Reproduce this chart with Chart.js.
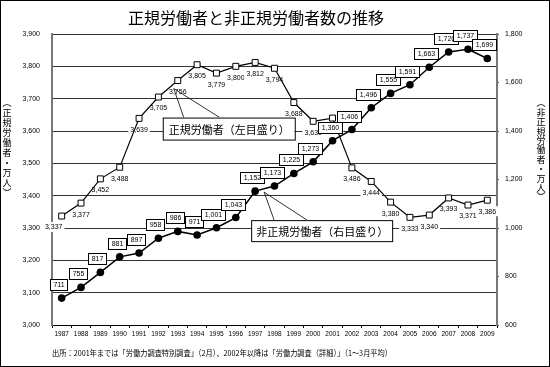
<!DOCTYPE html>
<html>
<head>
<meta charset="utf-8">
<script src="https://cdn.jsdelivr.net/npm/chart.js@4/dist/chart.umd.min.js"></script>
<style>
  html, body { margin: 0; padding: 0; background: #fff; }
  canvas { display: block; }
</style>
</head>
<body>
<canvas id="myChart" width="550" height="367"></canvas>
<script>
const years = ['1987', '1988', '1989', '1990', '1991', '1992', '1993', '1994', '1995', '1996', '1997', '1998',
    '1999', '2000', '2001', '2002', '2003', '2004', '2005', '2006', '2007', '2008', '2009'];

// 正規労働者（万人, 左目盛り）
const regular = [3337, 3377, 3452, 3488, 3639, 3705, 3756, 3805, 3779, 3800, 3812, 3794,
    3688, 3630, 3640, 3486, 3444, 3380, 3333, 3340, 3393, 3371, 3386];

// 非正規労働者（万人, 右目盛り）
const nonRegular = [711, 755, 817, 881, 897, 958, 986, 971, 1001, 1043, 1152, 1173,
    1225, 1273, 1360, 1406, 1496, 1555, 1591, 1663, 1726, 1737, 1699];

const leftTicks = [3000, 3100, 3200, 3300, 3400, 3500, 3600, 3700, 3800, 3900];
const rightTicks = [600, 800, 1000, 1200, 1400, 1600, 1800];

const titleText = '正規労働者と非正規労働者数の推移';
const leftTitle = '︵正規労働者・万人︶';
const rightTitle = '︵非正規労働者・万人︶';
const regularNote = '正規労働者（左目盛り）';
const nonRegularNote = '非正規労働者（右目盛り）';
const sourceText = '出所：2001年までは「労働力調査特別調査」（2月）、2002年以降は「労働力調査（詳細）」（1～3月平均）';

const jp = '"Noto Sans CJK JP", sans-serif';
const num = '"Liberation Sans", Arial, sans-serif';
const fmt = v => v.toLocaleString('en-US');

function callout(ctx, p, text, lines, box) {
    ctx.save();
    ctx.strokeStyle = '#000';
    ctx.lineWidth = 0.8;
    ctx.beginPath();
    for (const l of lines) {
        ctx.moveTo(p.x + l[0], p.y + l[1]);
        ctx.lineTo(p.x + l[2], p.y + l[3]);
    }
    ctx.stroke();
    ctx.fillStyle = '#fff';
    ctx.fillRect(p.x + box[0], p.y + box[1], box[2], box[3]);
    ctx.lineWidth = 1;
    ctx.strokeRect(p.x + box[0] + 0.5, p.y + box[1] + 0.5, box[2], box[3]);
    ctx.fillStyle = '#000';
    ctx.font = '11px ' + jp;
    ctx.textAlign = 'center';
    ctx.textBaseline = 'middle';
    ctx.fillText(text, p.x + box[0] + box[2] / 2 + 0.5, p.y + box[1] + box[3] / 2 + 1);
    ctx.restore();
}

function verticalText(ctx, text, x, y, step) {
    ctx.save();
    ctx.font = '9px ' + jp;
    ctx.fillStyle = '#000';
    ctx.textAlign = 'center';
    ctx.textBaseline = 'middle';
    [...text].forEach((ch, i) => ctx.fillText(ch, x, y + i * step));
    ctx.restore();
}

const decor = {
    id: 'decor',
    beforeDraw(chart) {
        const ctx = chart.ctx;
        ctx.save();
        ctx.fillStyle = '#fff';
        ctx.fillRect(0, 0, chart.width, chart.height);
        ctx.restore();
    },
    beforeDatasetsDraw(chart) {
        // labels of the regular series: plain text under each square
        const ctx = chart.ctx;
        const meta = chart.getDatasetMeta(0);
        ctx.save();
        ctx.font = '7px ' + num;
        ctx.textAlign = 'center';
        ctx.textBaseline = 'middle';
        meta.data.forEach((pt, i) => {
            const t = fmt(regular[i]);
            const dx = i === 0 ? -8 : 0;
            const w = ctx.measureText(t).width + 4;
            ctx.fillStyle = '#fff';
            ctx.fillRect(pt.x + dx - w / 2, pt.y + 6, w, 10);
            ctx.fillStyle = '#000';
            ctx.fillText(t, pt.x + dx, pt.y + 11.5);
        });
        ctx.restore();
    },
    afterDatasetsDraw(chart) {
        const ctx = chart.ctx;
        const meta = chart.getDatasetMeta(1);
        ctx.save();
        ctx.font = '7px ' + num;
        ctx.textAlign = 'center';
        ctx.textBaseline = 'middle';
        meta.data.forEach((pt, i) => {
            const t = fmt(nonRegular[i]);
            const w = Math.round(ctx.measureText(t).width + 6);
            const x = Math.round(pt.x - 3 - w / 2);
            const y = Math.round(pt.y - 19);
            ctx.fillStyle = '#fff';
            ctx.fillRect(x, y, w, 11);
            ctx.strokeStyle = '#000';
            ctx.lineWidth = 1;
            ctx.strokeRect(x + 0.5, y + 0.5, w, 11);
            ctx.fillStyle = '#000';
            ctx.fillText(t, x + w / 2 + 0.5, y + 6.5);
        });
        ctx.restore();

        const p0 = chart.getDatasetMeta(0).data[years.indexOf('1993')];
        callout(ctx, p0, regularNote, [[-4, 8, 6, 37], [-4, 8, 42, 37]], [-15, 37, 132, 22]);
        const p1 = chart.getDatasetMeta(1).data[years.indexOf('1997')];
        callout(ctx, p1, nonRegularNote, [[9, 1, 19, 29], [9, 1, 52, 29]], [-4, 29, 141, 21]);
    },
    afterDraw(chart) {
        const ctx = chart.ctx;
        ctx.save();
        ctx.fillStyle = '#000';
        ctx.font = '16px ' + jp;
        ctx.textAlign = 'center';
        ctx.textBaseline = 'middle';
        ctx.fillText(titleText, 256, 18);

        ctx.font = '8px ' + jp;
        ctx.textAlign = 'left';
        ctx.fillText(sourceText, 52, 353, 340);

        ctx.strokeStyle = '#000';
        ctx.lineWidth = 1;
        ctx.strokeRect(0.5, 0.5, chart.width - 1, chart.height - 1);
        ctx.restore();

        verticalText(ctx, leftTitle, 7, 103, 10);
        verticalText(ctx, rightTitle, 541, 103, 9.4);
    }
};

const ctx = document.getElementById('myChart').getContext('2d');

new Chart(ctx, {
    type: 'line',
    data: {
        labels: years,
        datasets: [
            {
                label: '正規労働者',
                data: regular,
                yAxisID: 'y',
                borderColor: '#000',
                borderWidth: 1.2,
                pointStyle: 'rect',
                pointRadius: 4.2,
                pointBackgroundColor: '#fff',
                pointBorderColor: '#000',
                pointBorderWidth: 1,
                tension: 0
            },
            {
                label: '非正規労働者',
                data: nonRegular,
                yAxisID: 'y1',
                borderColor: '#000',
                borderWidth: 1.5,
                pointStyle: 'circle',
                pointRadius: 3.8,
                pointBackgroundColor: '#000',
                pointBorderColor: '#000',
                pointBorderWidth: 0,
                tension: 0
            }
        ]
    },
    options: {
        responsive: false,
        animation: false,
        layout: { padding: { top: 34, left: 0, right: 0, bottom: 0 } },
        plugins: {
            legend: { display: false },
            title: { display: false },
            tooltip: { enabled: false }
        },
        scales: {
            x: {
                offset: true,
                afterFit: s => { s.height = 42; },
                grid: { offset: true, drawOnChartArea: false, tickLength: 3, color: '#000' },
                border: { color: '#000', width: 1 },
                ticks: { font: { size: 6.5, family: num }, color: '#000', padding: 2, maxRotation: 0, autoSkip: false }
            },
            y: {
                position: 'left',
                min: leftTicks[0],
                max: leftTicks[leftTicks.length - 1],
                afterFit: s => { s.width = 52; },
                afterBuildTicks: s => { s.ticks = leftTicks.map(v => ({ value: v })); },
                grid: { color: '#333', lineWidth: 1, drawTicks: false },
                border: { color: '#777', width: 2 },
                ticks: { font: { size: 7, family: num }, color: '#000', padding: 12, callback: v => fmt(v) }
            },
            y1: {
                position: 'right',
                min: rightTicks[0],
                max: rightTicks[rightTicks.length - 1],
                afterFit: s => { s.width = 53; },
                afterBuildTicks: s => { s.ticks = rightTicks.map(v => ({ value: v })); },
                grid: { drawOnChartArea: false, tickLength: 2, color: '#555' },
                border: { color: '#777', width: 2 },
                ticks: { font: { size: 7, family: num }, color: '#000', padding: 6, callback: v => fmt(v) }
            }
        }
    },
    plugins: [decor]
});
</script>
</body>
</html>
